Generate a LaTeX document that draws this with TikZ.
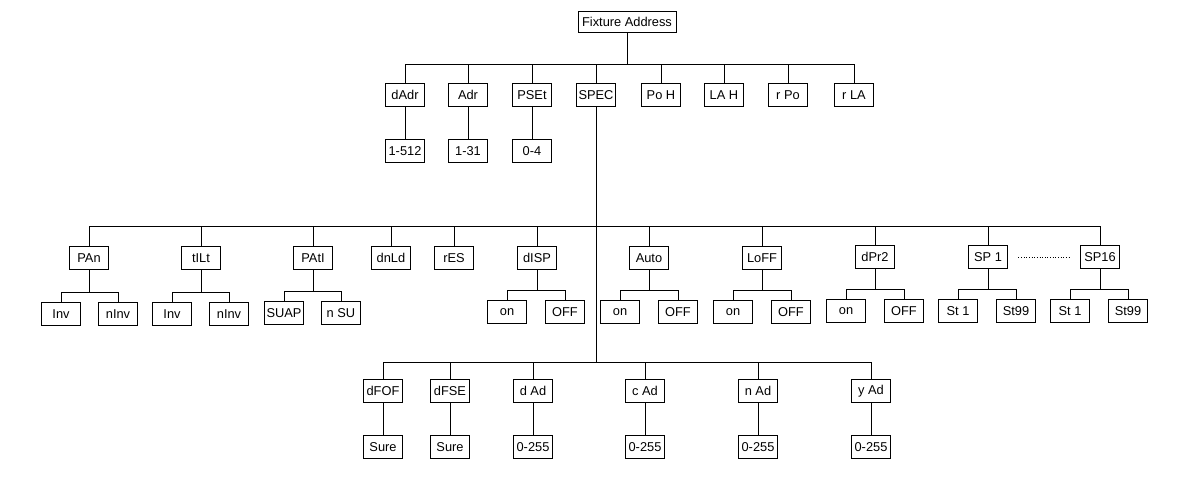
\documentclass[tikz,border=0pt]{standalone}
\usepackage{fontspec}
\setmainfont{Liberation Sans}
\begin{document}
\begin{tikzpicture}[x=0.02cm,y=-0.02cm,line width=0.5pt,
    box/.style={draw, rectangle, minimum width=0.78cm, minimum height=0.46cm, inner sep=1pt, font=\fontsize{7.3}{8}\selectfont}]
    \useasboundingbox (0,0) rectangle (1191,494);

    \node (fix) at (627,22) [box, minimum width=1.96cm, minimum height=0.42cm] {Fixture Address};

    % first level
    \node (dadr) at (405,95) [box] {dAdr};
    \node (adr) at (468,95) [box] {Adr};
    \node (pset) at (532,95) [box] {PSEt};
    \node (spec) at (596,95) [box] {SPEC};
    \node (poh) at (661,95) [box] {Po H};
    \node (lah) at (724,95) [box] {LA H};
    \node (rpo) at (788,95) [box] {r Po};
    \node (rla) at (854,95) [box] {r LA};

    \node (dadrv) at (405,151) [box] {1-512};
    \node (adrv) at (468,151) [box] {1-31};
    \node (psetv) at (532,151) [box] {0-4};

    \coordinate (bus1) at (627,64);
    \draw (fix.south) -- (bus1);
    \foreach \c in {dadr,adr,pset,spec,poh,lah,rpo,rla}
        \draw (bus1) -| (\c.north);
    \foreach \c in {dadr,adr,pset}
        \draw (\c.south) -- (\c v.north);

    % SPEC menu
    \node (pan) at (89,258) [box] {PAn};
    \node (tilt) at (201,258) [box] {tILt};
    \node (pati) at (313,258) [box] {PAtI};
    \node (dnld) at (391,258) [box] {dnLd};
    \node (res) at (454,258) [box] {rES};
    \node (disp) at (537,258) [box] {dISP};
    \node (auto) at (649,258) [box] {Auto};
    \node (loff) at (762,258) [box] {LoFF};
    \node (dpr) at (875,257) [box] {dPr2};
    \node (spa) at (988,257) [box] {SP 1};
    \node (spb) at (1100,257) [box] {SP16};

    \draw[densely dotted, shorten <=6pt, shorten >=6pt] (spa) -- (spb);

    \node (pana) at (61,314) [box] {Inv};
    \node (panb) at (118,314) [box] {nInv};
    \node (tilta) at (172,314) [box] {Inv};
    \node (tiltb) at (229,314) [box] {nInv};
    \node (patia) at (284,313) [box] {SUAP};
    \node (patib) at (341,313) [box] {n SU};
    \node (dispa) at (507,312) [box] {on};
    \node (dispb) at (565,312) [box] {OFF};
    \node (autoa) at (620,312) [box] {on};
    \node (autob) at (678,312) [box] {OFF};
    \node (loffa) at (733,312) [box] {on};
    \node (loffb) at (791,312) [box] {OFF};
    \node (dpra) at (846,311) [box] {on};
    \node (dprb) at (904,311) [box] {OFF};
    \node (spaa) at (958,311) [box] {St 1};
    \node (spab) at (1016,311) [box] {St99};
    \node (spba) at (1070,311) [box] {St 1};
    \node (spbb) at (1128,311) [box] {St99};

    \coordinate (bus2) at (596,226);
    \draw (spec.south) -- (bus2);
    \foreach \c in {pan,tilt,pati,dnld,res,disp,auto,loff,dpr,spa,spb}
        \draw (bus2) -| (\c.north);
    \foreach \p in {pan,tilt,pati,disp,auto,loff,dpr,spa,spb}{
        \draw (\p a.north) -- ++(0,-10) coordinate (j) -| (\p b.north);
        \draw (\p.south) -- (\p.south |- j);
    }

    % lower branch of SPEC
    \node (dfof) at (383,391) [box] {dFOF};
    \node (dfse) at (450,391) [box] {dFSE};
    \node (dad) at (533,391) [box] {d Ad};
    \node (cad) at (645,391) [box] {c Ad};
    \node (nad) at (758,391) [box] {n Ad};
    \node (yad) at (871,391) [box] {y Ad};

    \node (dfofv) at (383,447) [box] {Sure};
    \node (dfsev) at (450,447) [box] {Sure};
    \node (dadv) at (533,447) [box] {0-255};
    \node (cadv) at (645,447) [box] {0-255};
    \node (nadv) at (758,447) [box] {0-255};
    \node (yadv) at (871,447) [box] {0-255};

    \coordinate (bus3) at (596,362);
    \draw (bus2) -- (bus3);
    \foreach \c in {dfof,dfse,dad,cad,nad,yad}{
        \draw (bus3) -| (\c.north);
        \draw (\c.south) -- (\c v.north);
    }
\end{tikzpicture}
\end{document}
